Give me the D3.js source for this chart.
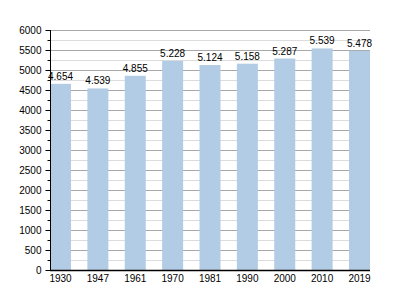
<!DOCTYPE html>
<html>
<head>
	<script src="https://cdn.jsdelivr.net/npm/d3@7"></script>
	<style>
		html, body {
			padding: 0;
			margin: 0;
			background: white;
		}
		text {
			font-family: "Liberation Sans", Arial, sans-serif;
			font-size: 10px;
			fill: #000;
		}
	</style>
</head>
<body>
	<script>
		// data
		var years = ["1930", "1947", "1961", "1970", "1981", "1990", "2000", "2010", "2019"];
		var population = [4654, 4539, 4855, 5228, 5124, 5158, 5287, 5539, 5478];
		var valueLabels = ["4.654", "4.539", "4.855", "5.228", "5.124", "5.158", "5.287", "5.539", "5.478"];
		var yTicks = [0, 500, 1000, 1500, 2000, 2500, 3000, 3500, 4000, 4500, 5000, 5500, 6000];

		var width = 400, height = 300;
		var plotLeft = 50, plotRight = 370, plotTop = 30, plotBottom = 270;
		var barWidth = 21;

		var svg = d3.select('body').append('svg')
			.attr('width', width)
			.attr('height', height);

		var y = d3.scaleLinear().domain([0, 6000]).range([plotBottom, plotTop]);
		var x = d3.scalePoint().domain(years)
			.range([plotLeft + barWidth / 2, plotRight - barWidth / 2]);

		var minorTicks = d3.range(250, 6000, 500);

		// minor gridlines
		svg.append("g").selectAll("line")
			.data(minorTicks)
			.enter().append("line")
			.attr("x1", plotLeft).attr("x2", plotRight)
			.attr("y1", d => y(d) + 0.5).attr("y2", d => y(d) + 0.5)
			.attr("stroke", "#dcdcdc")
			.attr("stroke-width", 1);

		// major gridlines
		svg.append("g").selectAll("line")
			.data(yTicks.filter(d => d > 0))
			.enter().append("line")
			.attr("x1", plotLeft).attr("x2", plotRight)
			.attr("y1", d => y(d) + 0.5).attr("y2", d => y(d) + 0.5)
			.attr("stroke", "#a8a8a8")
			.attr("stroke-width", 1);

		// bars
		svg.append("g").selectAll("rect")
			.data(population)
			.enter().append("rect")
			.attr("x", (d, i) => x(years[i]) - barWidth / 2)
			.attr("y", d => y(d))
			.attr("width", barWidth)
			.attr("height", d => plotBottom - y(d))
			.attr("fill", "#b3cce5");

		// value labels
		svg.append("g").selectAll("text")
			.data(population)
			.enter().append("text")
			.attr("x", (d, i) => x(years[i]))
			.attr("y", d => y(d) - 4)
			.attr("text-anchor", "middle")
			.text((d, i) => valueLabels[i]);

		// y axis
		var yAxis = d3.axisLeft(y).tickValues(yTicks).tickSize(5).tickPadding(4)
			.tickFormat(d3.format("d"));
		var gy = svg.append("g")
			.attr("transform", "translate(" + (plotLeft + 0.5) + ",0)")
			.call(yAxis);
		gy.select(".domain").remove();
		gy.selectAll("text").style("font-size", "10px").style("font-family", "Liberation Sans, Arial, sans-serif");
		svg.append("g")
			.attr("transform", "translate(" + (plotLeft + 0.5) + ",0)")
			.call(d3.axisLeft(y).tickValues(minorTicks).tickSize(3).tickFormat(""))
			.select(".domain").remove();
		svg.append("line")
			.attr("x1", plotLeft + 0.5).attr("x2", plotLeft + 0.5)
			.attr("y1", plotTop).attr("y2", plotBottom)
			.attr("stroke", "#000");

		// x axis
		svg.append("line")
			.attr("x1", plotLeft).attr("x2", plotRight)
			.attr("y1", plotBottom + 0.5).attr("y2", plotBottom + 0.5)
			.attr("stroke", "#000")
			.attr("stroke-width", 1.5);
		svg.append("g").selectAll("text")
			.data(years)
			.enter().append("text")
			.attr("x", d => x(d))
			.attr("y", plotBottom + 12)
			.attr("text-anchor", "middle")
			.text(d => d);
	</script>
</body>
</html>
